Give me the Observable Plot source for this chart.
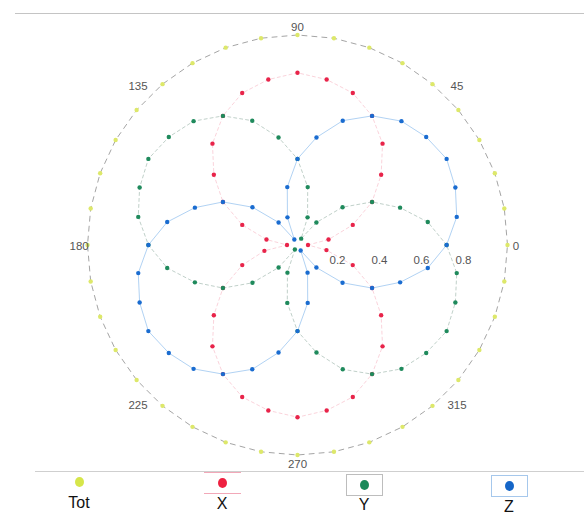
<!DOCTYPE html>
<html><head><meta charset="utf-8">
<script src="https://cdn.jsdelivr.net/npm/d3@7"></script>
<script src="https://cdn.jsdelivr.net/npm/@observablehq/plot@0.6"></script>
<style>
body{margin:0;background:#fff;font-family:"Liberation Sans",Arial,sans-serif;}
#wrap{position:relative;width:584px;height:519px;overflow:hidden;background:#fff}
#chart{position:absolute;left:0;top:0}
.rule{position:absolute;height:1px;background:#c8c8c8}
.box{position:absolute;box-sizing:border-box}
.dot{position:absolute;width:9px;height:10px;border-radius:50%;margin-left:-4.5px;margin-top:-5px}
.lab{position:absolute;font-size:16px;color:#111;transform:translate(-50%,-50%);white-space:nowrap}
</style></head><body><div id="wrap"><div id="chart"></div></div>
<script>
// sample angles (degrees)
const angles = [0,10,20,30,40,50,60,70,80,90,100,110,120,130,140,150,160,170,180,190,200,210,220,230,240,250,260,270,280,290,300,310,320,330,340,350];
// series values (radius)
const totVals = [1,1,1,1,1,1,1,1,1,1,1,1,1,1,1,1,1,1,1,1,1,1,1,1,1,1,1,1,1,1,1,1,1,1,1,1];
const xVals = [0.05,0.15,0.28,0.41,0.52,0.63,0.71,0.77,0.80,0.82,0.80,0.77,0.71,0.63,0.52,0.41,0.28,0.15,0.05,0.16,0.28,0.41,0.52,0.63,0.71,0.77,0.80,0.82,0.80,0.77,0.71,0.63,0.52,0.41,0.28,0.14];
const yVals = [0.71,0.63,0.52,0.41,0.28,0.14,0.035,0.14,0.28,0.41,0.52,0.63,0.71,0.77,0.80,0.82,0.80,0.77,0.71,0.63,0.52,0.41,0.28,0.14,0.025,0.14,0.28,0.41,0.52,0.63,0.71,0.77,0.80,0.82,0.80,0.77];
const zVals = [0.71,0.77,0.80,0.82,0.80,0.77,0.71,0.63,0.52,0.41,0.28,0.14,0.03,0.14,0.28,0.41,0.52,0.63,0.71,0.77,0.80,0.82,0.80,0.77,0.71,0.63,0.52,0.41,0.28,0.14,0.03,0.14,0.28,0.41,0.52,0.63];
const seriesNames = ["Tot","X","Y","Z"];
const seriesColors = ["#dde86a","#e8244a","#1f8a5c","#1a6cd0"];
const angleTicks = [0,45,90,135,180,225,270,315];
const radialTicks = [0.2,0.4,0.6,0.8];

const seriesVals = [totVals,xVals,yVals,zVals];
const rad = d => d*Math.PI/180;
const lineStyles = [
  {stroke:"#666", strokeOpacity:0.75, strokeWidth:0.8, strokeDasharray:"5,5"},
  {stroke:"#e8244a", strokeOpacity:0.25, strokeWidth:0.8, strokeDasharray:"3,3"},
  {stroke:"#3a6a55", strokeOpacity:0.4, strokeWidth:0.8, strokeDasharray:"3,3"},
  {stroke:"#3b8fe0", strokeOpacity:0.5, strokeWidth:0.8}
];

const marks = [];
seriesNames.forEach((name,i)=>{
  const pts = angles.map((a,j)=>({series:name, angle:a, r:seriesVals[i][j]}));
  const loop = pts.concat([pts[0]]);
  marks.push(Plot.line(loop, {x:d=>d.r*Math.cos(rad(d.angle)), y:d=>d.r*Math.sin(rad(d.angle)), curve:"linear", ...lineStyles[i]}));
});
seriesNames.forEach((name,i)=>{
  const pts = angles.map((a,j)=>({series:name, angle:a, r:seriesVals[i][j]}));
  marks.push(Plot.dot(pts, {x:d=>d.r*Math.cos(rad(d.angle)), y:d=>d.r*Math.sin(rad(d.angle)), r:2.2, fill:seriesColors[i], stroke:"none"}));
});
const labR = a => 1.04 + 0.034*Math.abs(Math.sin(rad(2*a)));
marks.push(Plot.text(angleTicks, {x:a=>labR(a)*Math.cos(rad(a)), y:a=>labR(a)*Math.sin(rad(a)), dy:1, text:a=>String(a), fill:"#555", fontSize:11.5, fontFamily:"Liberation Sans, Arial, sans-serif"}));
marks.push(Plot.text(radialTicks, {x:d=>d, y:0, dx:-2, dy:15, text:d=>d.toFixed(1), fill:"#555", fontSize:11.5, fontFamily:"Liberation Sans, Arial, sans-serif"}));

const chart = Plot.plot({
  width:584, height:472,
  marginLeft:87, marginRight:77, marginTop:34.5, marginBottom:17.5,
  x:{domain:[-1,1], axis:null},
  y:{domain:[-1,1], axis:null},
  style:{background:"transparent", overflow:"visible"},
  marks
});
const wrap = document.getElementById("wrap");
document.getElementById("chart").appendChild(chart);

// screenshot frame rules
const r1 = document.createElement("div"); r1.className="rule"; r1.style.cssText="left:15px;top:13px;width:569px;background:#c4c4c4";
const r2 = document.createElement("div"); r2.className="rule"; r2.style.cssText="left:35px;top:471px;width:549px;background:#cfcfcf";
wrap.appendChild(r1); wrap.appendChild(r2);

// legend
const legX = [79,222,364,509];
const legDotY = [482,483,485,486];
const legTextY = [503,504,505,507];
const boxCss = [null,
  "border-top:1px solid #f2a8b8;border-bottom:1px solid #f2a8b8;",
  "border:1px solid #bdbdbd;",
  "border:1px solid #a6c8ec;"];
const legDotColors = ["#d6e64a","#ee2040","#1a8a5a","#1566c8"];
seriesNames.forEach((name,i)=>{
  if (boxCss[i]) {
    const b = document.createElement("div"); b.className="box";
    b.style.cssText = `left:${legX[i]-18}px;top:${legDotY[i]-11}px;width:37px;height:22px;` + boxCss[i];
    wrap.appendChild(b);
  }
  const d = document.createElement("div"); d.className="dot";
  d.style.cssText = `left:${legX[i]}px;top:${legDotY[i]}px;background:${legDotColors[i]}`;
  wrap.appendChild(d);
  const t = document.createElement("div"); t.className="lab";
  t.style.left = legX[i]+"px"; t.style.top = legTextY[i]+"px"; t.textContent = name;
  wrap.appendChild(t);
});
</script></body></html>
